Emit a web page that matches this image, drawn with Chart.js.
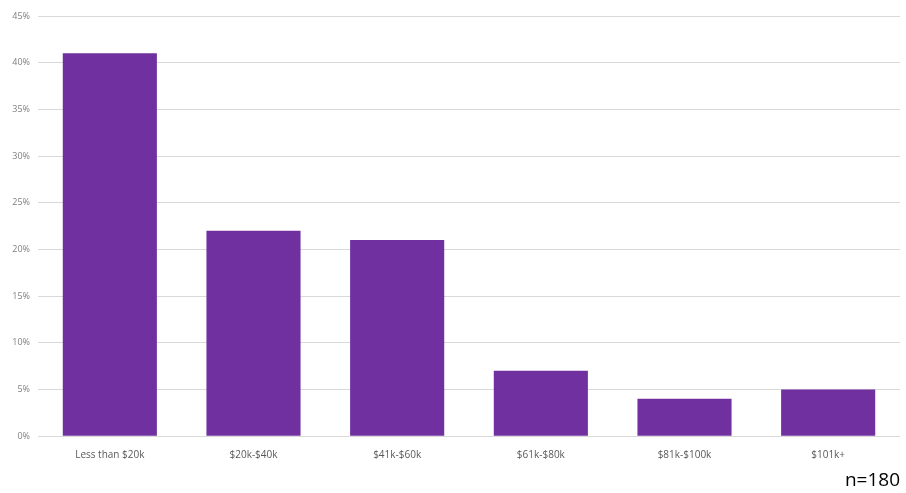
<!DOCTYPE html>
<html>
<head>
<meta charset="utf-8">
<script src="https://cdn.jsdelivr.net/npm/chart.js@4"></script>
<style>
  body { margin: 0; background: #fff; }
</style>
</head>
<body>
<canvas id="incomeChart" width="906" height="493"></canvas>
<script>
const categories = ['Less than $20k', '$20k-$40k', '$41k-$60k', '$61k-$80k', '$81k-$100k', '$101k+'];
const shares = [41, 22, 21, 7, 4, 5];
const sampleNote = 'n=180';

const ctx = document.getElementById('incomeChart').getContext('2d');
new Chart(ctx, {
    type: 'bar',
    data: {
        labels: categories,
        datasets: [{
            data: shares,
            backgroundColor: '#7030A0',
            borderWidth: 0,
            categoryPercentage: 1,
            barPercentage: 0.655
        }]
    },
    options: {
        responsive: false,
        animation: false,
        layout: {
            padding: { top: 16, right: 6, left: 1, bottom: 0 }
        },
        plugins: {
            legend: { display: false },
            tooltip: { enabled: false },
            title: {
                display: true,
                text: sampleNote,
                position: 'bottom',
                align: 'end',
                color: '#000',
                font: { family: 'Open Sans', size: 19, weight: 'normal' },
                padding: { top: 0, bottom: 1 }
            }
        },
        scales: {
            x: {
                grid: { display: false },
                border: { display: false },
                ticks: {
                    color: '#595959',
                    font: { family: 'Open Sans', size: 10 },
                    padding: 5,
                    maxRotation: 0
                },
                afterFit: function(scale) { scale.height = 33; }
            },
            y: {
                min: 0,
                max: 45,
                ticks: {
                    stepSize: 5,
                    color: '#7f7f7f',
                    font: { family: 'Open Sans', size: 9 },
                    padding: 8,
                    callback: function(v) { return v + '%'; }
                },
                grid: { color: '#d9d9d9', drawTicks: false },
                border: { display: false },
                afterFit: function(scale) { scale.width = 37; }
            }
        }
    }
});
</script>
</body>
</html>
